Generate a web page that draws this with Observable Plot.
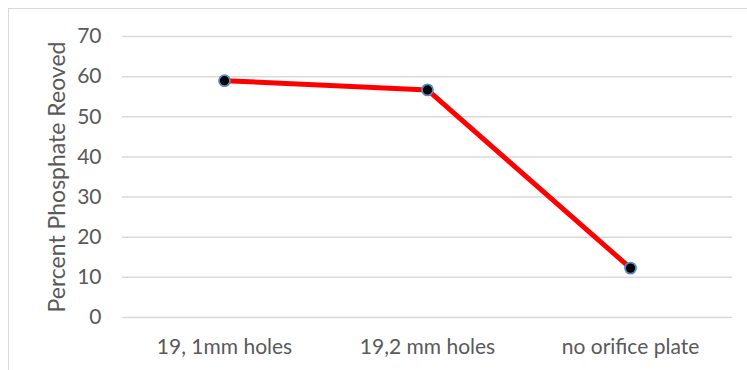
<!DOCTYPE html>
<html>
<head>
<meta charset="utf-8">
<script src="https://cdn.jsdelivr.net/npm/d3@7"></script>
<script src="https://cdn.jsdelivr.net/npm/@observablehq/plot@0.6"></script>
<style>
  html, body { margin: 0; padding: 0; background: #fff; overflow: hidden; }
  #wrap { position: relative; width: 747px; height: 370px; overflow: hidden; }
  #border { position: absolute; left: 8px; top: 8px; width: 800px; height: 420px; border: 1px solid #d9d9d9; box-sizing: border-box; pointer-events: none; }
  #chart { position: absolute; left: 0; top: 0; }
</style>
</head>
<body>
<div id="wrap"><div id="border"></div><div id="chart"></div></div>
<script>
const categories = ["19, 1mm holes", "19,2 mm holes", "no orifice plate"];
const values = [59.0, 56.7, 12.3];
const yTicks = [0, 10, 20, 30, 40, 50, 60, 70];
const yLabel = "Percent Phosphate Reoved";

const data = categories.map((c, i) => ({category: c, value: values[i]}));

const chart = Plot.plot({
  width: 747,
  height: 370,
  marginLeft: 122,
  marginRight: 15,
  marginTop: 36,
  marginBottom: 53,
  style: {fontFamily: "Lato, sans-serif", fontSize: "21px", color: "#595959", background: "transparent"},
  x: {type: "point", domain: categories, padding: 0.5, label: null},
  y: {domain: [0, 70], ticks: yTicks, label: yLabel},
  marks: [
    Plot.gridY(yTicks, {stroke: "#d9d9d9", strokeOpacity: 1, strokeWidth: 1.5}),
    Plot.axisY({ticks: yTicks, tickSize: 0, tickPadding: 21, label: null, fill: "#595959", fontSize: 21}),
    Plot.axisY({ticks: [], tickSize: 0, label: yLabel, labelAnchor: "center", labelOffset: 74, labelArrow: "none", fill: "#595959", fontSize: 23}),
    Plot.axisX({tickSize: 0, tickPadding: 22, label: null, fill: "#595959", fontSize: 21}),
    Plot.line(data, {x: "category", y: "value", stroke: "#ff0000", strokeWidth: 5}),
    Plot.dot(data, {x: "category", y: "value", r: 5.5, fill: "#000000", stroke: "#5a8ac6", strokeWidth: 1.8})
  ]
});
document.getElementById("chart").appendChild(chart);
</script>
</body>
</html>
